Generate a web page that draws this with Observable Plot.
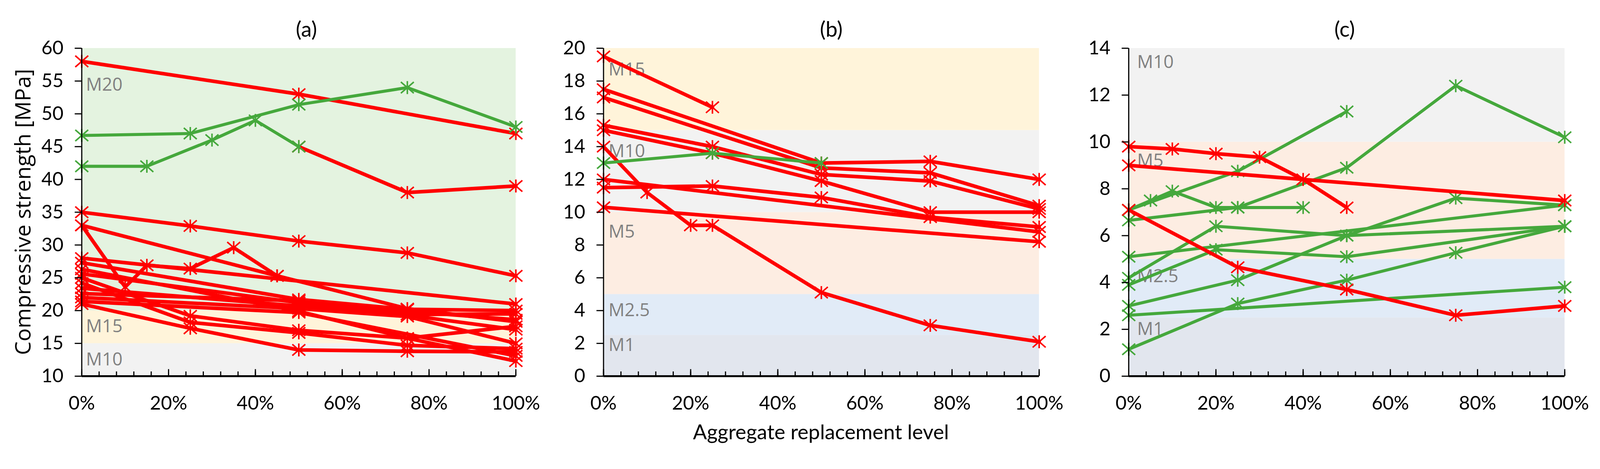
<!DOCTYPE html>
<html>
<head>
<meta charset="utf-8">
<script src="https://cdn.jsdelivr.net/npm/d3@7"></script>
<script src="https://cdn.jsdelivr.net/npm/@observablehq/plot@0.6"></script>
<style>
  html, body { margin: 0; padding: 0; background: #ffffff; overflow: hidden; }
  #root { position: relative; width: 4198px; height: 1200px; overflow: hidden; font-family: Lato, sans-serif; background: #fff; transform-origin: 0 0; }
  .panel { position: absolute; top: 0; }
  .txt { position: absolute; transform: translate(-50%, -50%); white-space: nowrap; color: #000; font-family: Lato, sans-serif; }
  .title { font-size: 56px; }
  .xlabel { font-size: 54px; }
  .ylabel { font-family: "Open Sans", sans-serif; font-size: 57px; transform: translate(-50%, -50%) rotate(-90deg); }
</style>
</head>
<body>
<div id="root"></div>
<script>
// ---------------- DATA ----------------
const panelTitles = ["(a)", "(b)", "(c)"];
const yAxisLabel = "Compressive strength [MPa]";
const xAxisLabel = "Aggregate replacement level";
const xTickValues = [0, 20, 40, 60, 80, 100];
const xMinorTickValues = [0,4,8,12,16,20,24,28,32,36,40,44,48,52,56,60,64,68,72,76,80,84,88,92,96,100];

const yTicksA = [10, 15, 20, 25, 30, 35, 40, 45, 50, 55, 60];
const yTicksB = [0, 2, 4, 6, 8, 10, 12, 14, 16, 18, 20];
const yTicksC = [0, 2, 4, 6, 8, 10, 12, 14];

// strength classes: name, lower, upper, label level
const bandsA = [
  {name: "M10", lo: 10, hi: 15, labelY: 12.5},
  {name: "M15", lo: 15, hi: 20, labelY: 17.6},
  {name: "M20", lo: 20, hi: 60, labelY: 54.4}
];
const bandsB = [
  {name: "M1", lo: 0, hi: 2.5, labelY: 1.9},
  {name: "M2.5", lo: 2.5, hi: 5, labelY: 4.0},
  {name: "M5", lo: 5, hi: 10, labelY: 8.8},
  {name: "M10", lo: 10, hi: 15, labelY: 13.7},
  {name: "M15", lo: 15, hi: 20, labelY: 18.7}
];
const bandsC = [
  {name: "M1", lo: 0, hi: 2.5, labelY: 2.0},
  {name: "M2.5", lo: 2.5, hi: 5, labelY: 4.25},
  {name: "M5", lo: 5, hi: 10, labelY: 9.2},
  {name: "M10", lo: 10, hi: 14, labelY: 13.4}
];

// series: [replacement %, strength MPa]
const panelA_red = [
  [[0,58],[50,53],[100,47]],
  [[50,45],[75,38],[100,39]],
  [[0,35],[25,32.9],[50,30.6],[75,28.8],[100,25.3]],
  [[0,33],[10,23.6],[15,26.9],[25,26.4],[35,29.6],[45,25.3]],
  [[0,33],[45,25.3],[75,20.3],[100,18.3]],
  [[0,28],[100,21]],
  [[0,27.3],[50,21.7],[75,20.2],[100,20.0]],
  [[0,26.3],[50,19.9],[75,15.8],[100,12.3]],
  [[0,25.6],[50,21.2],[100,18.6]],
  [[0,25],[25,19.2],[50,17.0],[75,15.8],[100,17.6]],
  [[0,24.2],[25,18.2],[50,16.6],[75,14.7],[100,14.2]],
  [[0,23.4],[50,20.7],[75,19.4],[100,19.5]],
  [[0,22.6],[50,21.5],[100,17.1]],
  [[0,22.0],[50,20.3],[75,19.1],[100,15.0]],
  [[0,21.4],[50,19.7],[100,13.1]],
  [[0,21.0],[25,17.3],[50,14.0],[75,13.8],[100,13.7]]
];
const panelA_green = [
  [[0,46.7],[25,47],[50,51.4],[75,54],[100,48]],
  [[0,42],[15,42],[30,46],[40,49],[50,45]]
];

const panelB_red = [
  [[0,19.5],[25,16.4]],
  [[0,17.5],[50,13.0],[75,13.1],[100,12.0]],
  [[0,17.0],[50,12.7],[75,12.4],[100,10.4]],
  [[0,15.3],[25,14.0],[50,12.3],[75,11.9],[100,10.2]],
  [[0,15.0],[25,13.6],[50,11.9],[75,10.0],[100,10.0]],
  [[0,14.0],[10,11.2],[20,9.2],[25,9.2],[50,5.1],[75,3.1],[100,2.1]],
  [[0,12.0],[100,8.8]],
  [[0,11.5],[25,11.6],[50,10.9],[75,9.7],[100,9.1]],
  [[0,10.3],[100,8.2]]
];
const panelB_green = [
  [[0,13.0],[25,13.6],[50,13.0]]
];

const panelC_red = [
  [[0,9.8],[10,9.7],[20,9.5],[30,9.35],[40,8.4],[50,7.2]],
  [[0,9.0],[100,7.5]],
  [[0,7.1],[25,4.65],[50,3.7],[75,2.6],[100,3.0]]
];
const panelC_green = [
  [[0,7.1],[5,7.5],[10,7.9],[20,7.2],[25,7.2],[40,7.2]],
  [[0,7.1],[25,8.75],[50,11.3]],
  [[0,6.65],[25,7.2],[50,8.9],[75,12.4],[100,10.2]],
  [[0,5.1],[100,7.3]],
  [[0,4.2],[20,6.4],[50,6.0],[100,6.4]],
  [[0,3.9],[20,5.4],[50,5.1],[100,6.4]],
  [[0,3.0],[25,4.1],[50,6.0],[75,7.6],[100,7.3]],
  [[0,2.6],[100,3.8]],
  [[0,1.15],[25,3.1],[50,4.1],[75,5.27],[100,6.4]]
];

// ---------------- STYLE ----------------
const RED = "#ff0000";
const GREEN = "#45a83c";
const bandColors = {"M1": "#e2e6ee", "M2.5": "#e1ebf7", "M5": "#fdede2", "M10": "#f2f2f2", "M15": "#fff4da", "M20": "#e4f3e0"};

// Excel-like star marker: vertical bar plus an X
const excelStar = {
  draw(ctx, size) {
    const r = Math.sqrt(size / Math.PI);
    const d = r * 0.87;
    ctx.moveTo(0, -r); ctx.lineTo(0, r);
    ctx.moveTo(-r, -d); ctx.lineTo(r, d);
    ctx.moveTo(-r, d); ctx.lineTo(r, -d);
  }
};

const H = 1100, MT = 126, MB = 114;
const plotH = H - MT - MB;

function buildPanel(cfg) {
  const marks = [];
  marks.push(Plot.rect(cfg.bands, {x1: 0, x2: 100, y1: "lo", y2: "hi", fill: d => bandColors[d.name]}));
  marks.push(Plot.text(cfg.bands, {x: 0, y: "labelY", text: "name", textAnchor: "start", dx: cfg.labelDx, fill: "#808080", fontSize: 47, fontFamily: "Open Sans, sans-serif"}));
  const drawSeries = (list, color, width) => {
    list.forEach(pts => {
      marks.push(Plot.line(pts, {x: d => d[0], y: d => d[1], stroke: color, strokeWidth: width, strokeLinejoin: "round"}));
      marks.push(Plot.dot(pts, {x: d => d[0], y: d => d[1], symbol: excelStar, r: 17, stroke: color, strokeWidth: 4, fill: "none"}));
    });
  };
  cfg.order.forEach(([list, color, width]) => drawSeries(list, color, width));
  marks.push(Plot.ruleX([0], {stroke: "#000", strokeWidth: 3}));
  marks.push(Plot.ruleY([cfg.yDomain[0]], {stroke: "#000", strokeWidth: 5}));
  marks.push(Plot.tickX(xMinorTickValues, {x: d => d, stroke: "#000", strokeWidth: 3, insetTop: plotH - 12}));
  marks.push(Plot.tickX(xTickValues, {x: d => d, stroke: "#000", strokeWidth: 3, insetTop: plotH - 18}));
  marks.push(Plot.axisY({ticks: cfg.yTicks, tickSize: 18, tickPadding: 30, strokeWidth: 3, tickFormat: d => String(d), label: null, fontSize: 50}));
  marks.push(Plot.axisX({ticks: xTickValues, tickSize: 0, tickPadding: 52, tickFormat: d => d + "%", label: null, fontSize: 50}));

  const svg = Plot.plot({
    width: cfg.width,
    height: H,
    marginTop: MT,
    marginBottom: MB,
    marginLeft: cfg.marginLeft,
    marginRight: cfg.marginRight,
    x: {domain: [0, 100]},
    y: {domain: cfg.yDomain},
    style: {fontFamily: "Lato, sans-serif", fontSize: "50px", color: "#000", background: "transparent", overflow: "visible", maxWidth: "none"},
    marks
  });
  const wrap = document.createElement("div");
  wrap.className = "panel";
  wrap.style.left = cfg.left + "px";
  wrap.style.width = cfg.width + "px";
  wrap.appendChild(svg);
  return wrap;
}

const root = document.getElementById("root");
root.appendChild(buildPanel({
  left: 0, width: 1400, marginLeft: 214, marginRight: 47,
  yDomain: [10, 60], yTicks: yTicksA, bands: bandsA, labelDx: 11,
  order: [[panelA_red, RED, 9.5], [panelA_green, GREEN, 8]]
}));
root.appendChild(buildPanel({
  left: 1400, width: 1380, marginLeft: 183, marginRight: 54,
  yDomain: [0, 20], yTicks: yTicksB, bands: bandsB, labelDx: 13,
  order: [[panelB_red, RED, 9.5], [panelB_green, GREEN, 8]]
}));
root.appendChild(buildPanel({
  left: 2800, width: 1398, marginLeft: 161, marginRight: 93,
  yDomain: [0, 14], yTicks: yTicksC, bands: bandsC, labelDx: 22,
  order: [[panelC_green, GREEN, 8], [panelC_red, RED, 9.5]]
}));

function addText(cls, text, x, y) {
  const d = document.createElement("div");
  d.className = "txt " + cls;
  d.textContent = text;
  d.style.left = x + "px";
  d.style.top = y + "px";
  root.appendChild(d);
}
addText("title", panelTitles[0], 804, 75);
addText("title", panelTitles[1], 2181, 75);
addText("title", panelTitles[2], 3528, 75);
addText("xlabel", xAxisLabel, 2154, 1132);
addText("ylabel", yAxisLabel, 58, 556);

// fit the 4198x1200 design into the actual viewport
function fit() {
  const s = Math.min(window.innerWidth / 4198, window.innerHeight / 1200);
  root.style.transform = s < 0.9999 ? "scale(" + s + ")" : "none";
}
fit();
window.addEventListener("resize", fit);
</script>
</body>
</html>
